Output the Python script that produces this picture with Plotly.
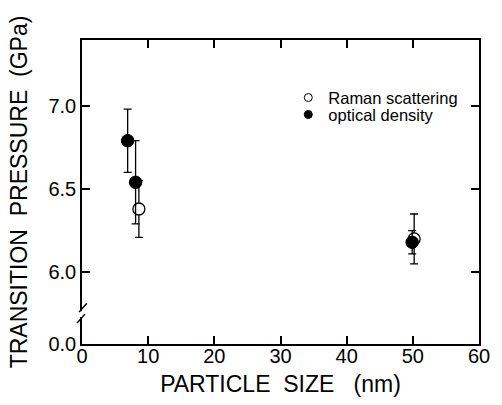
import plotly.graph_objects as go

# ---- data ----
optical_size = [6.9, 8.1, 49.9]
optical_p = [6.79, 6.54, 6.18]
optical_err = [0.19, 0.25, 0.07]

raman_size = [8.6, 50.2]
raman_p = [6.38, 6.20]
raman_err = [0.17, 0.15]

x_ticks = [0, 10, 20, 30, 40, 50, 60]
# broken y-axis: the bottom of the axis stands for 0.0 GPa
BREAK_BASE = 5.569
y_tickvals = [BREAK_BASE, 6.0, 6.5, 7.0]
y_ticktext = ["0.0", "6.0", "6.5", "7.0"]
Y_TOP = 7.395

FONT = "Liberation Sans, Arial, Helvetica, sans-serif"
NB = "\u00a0"

fig = go.Figure()
fig.add_trace(go.Scatter(
    x=raman_size, y=raman_p, mode="markers", name="Raman scattering",
    showlegend=False,
    marker=dict(symbol="circle", size=12, color="white",
                line=dict(color="black", width=1.3)),
    error_y=dict(type="data", array=raman_err, color="black",
                 thickness=1.3, width=4),
))
fig.add_trace(go.Scatter(
    x=optical_size, y=optical_p, mode="markers", name="optical density",
    showlegend=False,
    marker=dict(symbol="circle", size=12.5, color="black",
                line=dict(color="black", width=1)),
    error_y=dict(type="data", array=optical_err, color="black",
                 thickness=1.3, width=4),
))
# legend entries (smaller symbols, as in the reference)
fig.add_trace(go.Scatter(
    x=[None], y=[None], mode="markers", name="Raman scattering", legend="legend",
    marker=dict(symbol="circle", size=8, color="white",
                line=dict(color="black", width=1)),
))
fig.add_trace(go.Scatter(
    x=[None], y=[None], mode="markers", name="optical density", legend="legend2",
    marker=dict(symbol="circle", size=8, color="black",
                line=dict(color="black", width=1)),
))

axis_common = dict(
    showline=True, linecolor="black", linewidth=1.5, mirror="ticks",
    ticks="inside", ticklen=8, tickwidth=1.5, tickcolor="black",
    showgrid=False, zeroline=False,
    tickfont=dict(family=FONT, size=20, color="black"),
)
fig.update_xaxes(
    range=[0, 60], tickvals=x_ticks, **axis_common,
    ticklabelstandoff=-7,
    title=dict(text=f"PARTICLE{NB}{NB}SIZE{NB}{NB}{NB}(nm)",
               font=dict(family=FONT, size=23, color="black"), standoff=10),
)
fig.update_yaxes(
    range=[BREAK_BASE, Y_TOP], tickvals=y_tickvals, ticktext=y_ticktext, **axis_common,
    title=dict(text=f"TRANSITION{NB}{NB}PRESSURE{NB}{NB}(GPa)",
               font=dict(family=FONT, size=23, color="black"), standoff=14),
)

# axis-break decoration on the left axis
def py(pix):
    return 6.0 - (pix - 273) / 167.0
def px(pix):
    return (pix - 82) / 408.0

fig.add_shape(type="line", xref="paper", yref="y", x0=px(82), x1=px(82),
              y0=py(312), y1=py(318), line=dict(color="white", width=4))
fig.add_shape(type="line", xref="paper", yref="y", x0=px(79), x1=px(87),
              y0=py(313), y1=py(304), line=dict(color="black", width=1.5))
fig.add_shape(type="line", xref="paper", yref="y", x0=px(77), x1=px(85),
              y0=py(324), y1=py(315), line=dict(color="black", width=1.5))

leg_common = dict(xanchor="left", yanchor="middle",
                  bgcolor="rgba(0,0,0,0)", borderwidth=0,
                  font=dict(family=FONT, size=16.5, color="black"),
                  itemwidth=30)
fig.update_layout(
    width=502, height=405,
    margin=dict(l=82, r=12, t=40, b=60),
    paper_bgcolor="white", plot_bgcolor="white",
    showlegend=True,
    legend=dict(x=px(294), y=(345 - 98) / 305.0, **leg_common),
    legend2=dict(x=px(294), y=(345 - 115) / 305.0, **leg_common),
    font=dict(family=FONT, color="black"),
)

fig.write_html("out.html")
